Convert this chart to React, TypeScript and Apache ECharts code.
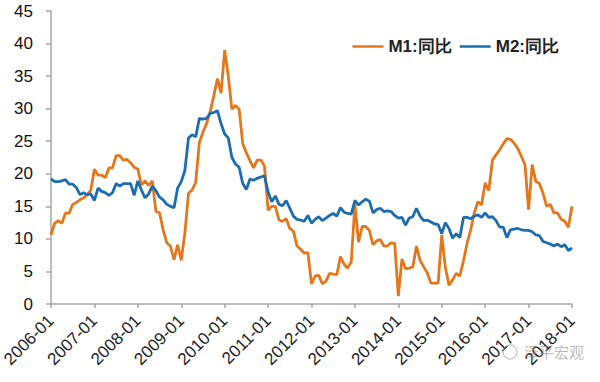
import React, { useEffect, useRef } from "react";
import * as echarts from "echarts";

const years = ["2006", "2007", "2008", "2009", "2010", "2011", "2012", "2013", "2014", "2015", "2016", "2017"];
const months = ["01", "02", "03", "04", "05", "06", "07", "08", "09", "10", "11", "12"];
const categories: string[] = [];
years.forEach((y) => months.forEach((m) => categories.push(`${y}-${m}`)));
categories.push("2018-01");

const m1: number[] = [
  10.6, 12.4, 12.8, 12.4, 14.0, 13.9, 15.3, 15.6, 16.0, 16.3, 16.8, 17.5,
  20.7, 19.8, 19.8, 19.4, 20.9, 20.9, 22.8, 22.8, 22.1, 22.2, 21.7, 21.0,
  20.7, 18.3, 18.9, 18.2, 18.9, 14.2, 14.0, 11.4, 9.4, 8.9, 6.8, 9.1,
  6.7, 10.9, 17.0, 17.5, 18.7, 24.8, 26.4, 27.7, 29.5, 32.0, 34.6, 32.4,
  39.0, 35.0, 29.9, 30.5, 29.9, 24.6, 23.2, 22.0, 20.9, 22.1, 22.1, 21.2,
  14.4, 15.0, 15.0, 12.9, 12.7, 13.1, 11.6, 11.2, 8.9, 8.4, 7.8, 7.9,
  3.1, 4.3, 4.4, 3.1, 3.5, 4.7, 4.6, 4.5, 7.3, 6.1, 5.5, 6.5,
  15.3, 9.5, 11.9, 11.9, 11.3, 9.1, 9.7, 9.9, 8.9, 8.9, 9.4, 9.3,
  1.2, 6.9, 5.4, 5.5, 5.7, 8.9, 6.7, 5.7, 4.8, 3.2, 3.2, 3.2,
  10.6, 5.6, 2.9, 3.7, 4.7, 4.3, 6.6, 9.3, 11.4, 14.0, 15.7, 15.2,
  18.6, 17.4, 22.1, 22.9, 23.7, 24.6, 25.4, 25.3, 24.7, 23.9, 22.7, 21.4,
  14.5, 21.4, 18.8, 18.5, 17.0, 15.0, 15.3, 14.0, 14.0, 13.0, 12.7, 11.8,
  15.0,
];

const m2: number[] = [
  19.2, 18.8, 18.8, 18.9, 19.1, 18.4, 18.4, 17.9, 16.8, 17.1, 16.8, 16.9,
  15.9, 17.8, 17.3, 17.1, 16.7, 17.1, 18.5, 18.1, 18.5, 18.5, 18.5, 16.7,
  18.9, 17.5, 16.3, 16.9, 18.1, 17.4, 16.4, 16.0, 15.3, 15.0, 14.8, 17.8,
  18.8, 20.5, 25.5, 26.0, 25.7, 28.5, 28.4, 28.5, 29.3, 29.4, 29.7, 27.7,
  26.1, 25.5, 22.5, 21.5, 21.0, 18.5, 17.6, 19.2, 19.0, 19.3, 19.5, 19.7,
  17.2, 15.7, 16.6, 15.3, 15.1, 15.9, 14.7, 13.5, 13.0, 12.9, 12.7, 13.6,
  12.4, 13.0, 13.4, 12.8, 13.2, 13.6, 13.9, 13.5, 14.8, 14.1, 13.9, 13.8,
  15.9, 15.2, 15.7, 16.1, 15.8, 14.0, 14.5, 14.7, 14.2, 14.3, 14.2, 13.6,
  13.2, 13.3, 12.1, 13.2, 13.4, 14.7, 13.5, 12.8, 12.9, 12.6, 12.3, 12.2,
  10.8, 12.5, 11.6, 10.1, 10.8, 10.2, 13.3, 13.3, 13.1, 13.5, 13.7, 13.3,
  14.0, 13.3, 13.4, 12.8, 11.8, 11.8, 10.2, 11.4, 11.5, 11.6, 11.4, 11.3,
  11.3, 11.1, 10.6, 10.5, 9.6, 9.4, 9.2, 8.9, 9.2, 8.8, 9.1, 8.2,
  8.6,
];

const seriesNames = ["M1:同比", "M2:同比"];
const colors = ["#E3771B", "#1B6DB0"];
const watermark = "泽平宏观";

export default function App() {
  const ref = useRef<HTMLDivElement>(null);
  useEffect(() => {
    document.body.style.margin = "0";
    if (!ref.current) return;
    const chart = echarts.init(ref.current, null, { renderer: "svg" });
    chart.setOption({
      animation: false,
      backgroundColor: "#ffffff",
      grid: { left: 51, right: 28, top: 11, bottom: 78, outerBoundsMode: "none", containLabel: false },
      legend: {
        data: seriesNames,
        right: 36,
        top: 33,
        icon: "rect",
        itemWidth: 31,
        itemHeight: 2.5,
        itemGap: 8,
        textStyle: { fontSize: 17, fontWeight: "bold", color: "#222", fontFamily: "Liberation Sans" },
      },
      xAxis: {
        type: "category",
        data: categories,
        boundaryGap: false,
        axisLine: { lineStyle: { color: "#A6A6A6", width: 1.5 } },
        axisTick: { interval: 11, length: 4, lineStyle: { color: "#A6A6A6", width: 1.5 } },
        axisLabel: {
          interval: 11,
          rotate: 45,
          margin: 14,
          fontSize: 17,
          color: "#222",
          fontFamily: "Liberation Sans",
        },
        splitLine: { show: false },
      },
      yAxis: {
        type: "value",
        min: 0,
        max: 45,
        interval: 5,
        axisLine: { show: true, lineStyle: { color: "#A6A6A6", width: 1.5 } },
        axisTick: { show: true, length: 5, lineStyle: { color: "#A6A6A6", width: 1.5 } },
        axisLabel: { fontSize: 17, color: "#111", margin: 18, fontFamily: "Liberation Sans" },
        splitLine: { show: false },
      },
      series: [
        {
          name: seriesNames[0],
          type: "line",
          data: m1,
          symbol: "none",
          lineStyle: { color: colors[0], width: 2.8 },
          itemStyle: { color: colors[0] },
          z: 2,
        },
        {
          name: seriesNames[1],
          type: "line",
          data: m2,
          symbol: "none",
          lineStyle: { color: colors[1], width: 2.8 },
          itemStyle: { color: colors[1] },
          z: 3,
        },
      ],
      graphic: [
        {
          type: "circle",
          shape: { cx: 510, cy: 352, r: 7 },
          style: { fill: "none", stroke: "rgba(150,150,150,0.6)", lineWidth: 1.2 },
          z: 10,
        },
        {
          type: "text",
          x: 524,
          y: 344,
          style: {
            text: watermark,
            fontSize: 15,
            fill: "rgba(140,140,140,0.6)",
            fontFamily: "Noto Sans CJK SC",
          },
          z: 10,
        },
      ],
    });
    return () => chart.dispose();
  }, []);
  return <div ref={ref} style={{ width: 600, height: 382 }} />;
}
